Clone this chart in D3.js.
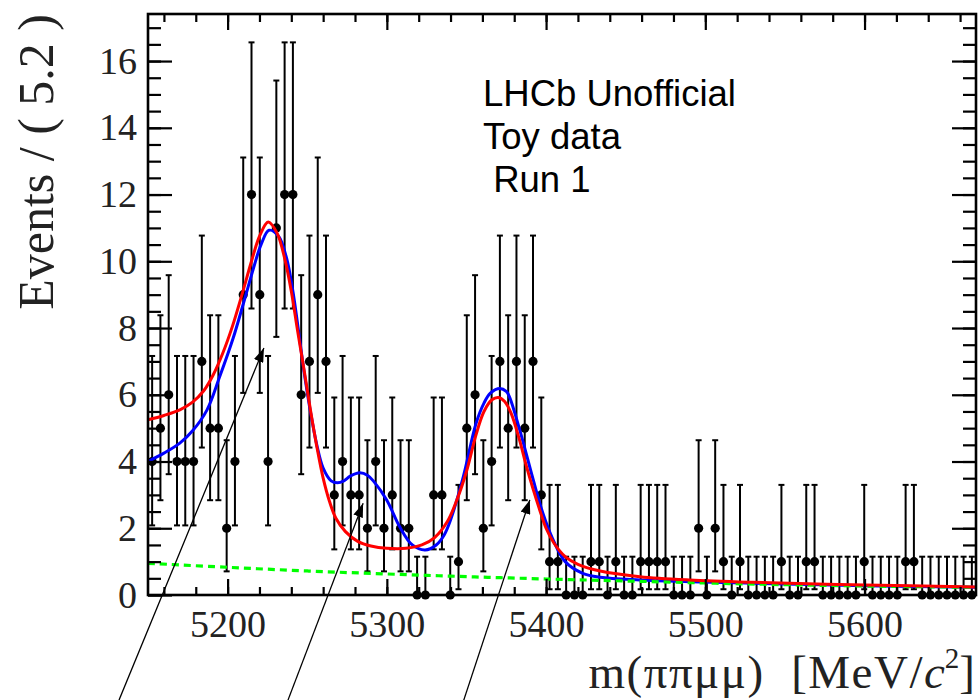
<!DOCTYPE html>
<html>
<head>
<meta charset="utf-8">
<script src="https://cdn.jsdelivr.net/npm/d3@7"></script>
<style>
  body { margin: 0; background: #fff; }
  text { white-space: pre; }
</style>
</head>
<body>
<svg id="chart" width="980" height="700"></svg>
<script>
// ---- Histogram: 100 bins of 5.2 MeV between 5150 and 5670 MeV ----
const massRange = [5150, 5670];
const binWidth = 5.2;
const counts = [
  4, 5, 6, 4, 4, 4, 7, 5, 5, 2,
  4, 9, 12, 9, 4, 11, 12, 12, 6, 7,
  9, 7, 3, 4, 3, 3, 2, 4, 2, 3,
  2, 2, 0, 0, 3, 3, 0, 1, 5, 6,
  2, 4, 7, 5, 7, 5, 7, 3, 1, 1,
  0, 0, 0, 1, 1, 0, 1, 0, 0, 1,
  1, 1, 1, 0, 0, 0, 2, 0, 2, 1,
  0, 1, 0, 0, 0, 0, 1, 0, 0, 1,
  1, 0, 0, 0, 0, 0, 1, 0, 0, 0,
  0, 1, 1, 0, 0, 0, 0, 0, 0, 0
];

// ---- Fit projections, sampled along the mass axis ----
const totalMass = [5150, 5160, 5170, 5178, 5185, 5191, 5197, 5203, 5209, 5215, 5220, 5225.5, 5231, 5236, 5240, 5244, 5248, 5252, 5256, 5260, 5264, 5268, 5274, 5282, 5290, 5300, 5312, 5322, 5330, 5338, 5344, 5350, 5356, 5361, 5366, 5370, 5374, 5378, 5383, 5388, 5392, 5396, 5400, 5405, 5412, 5420, 5434, 5459, 5490, 5530, 5600, 5670];
const totalFit  = [5.25, 5.38, 5.55, 5.78, 6.12, 6.6, 7.25, 8.05, 9.0, 10.0, 10.75, 11.18, 10.85, 10.05, 9.1, 7.9, 6.75, 5.55, 4.45, 3.5, 2.8, 2.3, 1.9, 1.6, 1.47, 1.4, 1.4, 1.5, 1.72, 2.2, 2.85, 3.7, 4.8, 5.5, 5.85, 5.92, 5.8, 5.45, 4.7, 3.8, 3.15, 2.55, 2.0, 1.55, 1.15, 0.92, 0.72, 0.55, 0.45, 0.38, 0.3, 0.24];

const altMass = [5150, 5160, 5170, 5178, 5187, 5195, 5203.5, 5210, 5216, 5221, 5226, 5232, 5237, 5241, 5244, 5248, 5252, 5256, 5260, 5265, 5269, 5273, 5277, 5283, 5288, 5292, 5300, 5308, 5316, 5324, 5331, 5336, 5340, 5348, 5356, 5361, 5365, 5371, 5375, 5377, 5383.5, 5392, 5398, 5404, 5412, 5423, 5434, 5459, 5490, 5550, 5600, 5670];
const altFit  = [4.0, 4.25, 4.55, 4.92, 5.54, 6.54, 7.7, 8.75, 9.75, 10.5, 10.93, 10.75, 10.1, 9.1, 8.1, 6.7, 5.5, 4.5, 3.8, 3.42, 3.36, 3.42, 3.56, 3.66, 3.58, 3.39, 2.84, 2.05, 1.5, 1.35, 1.5, 1.8, 2.25, 3.54, 5.14, 5.75, 6.05, 6.19, 6.1, 5.94, 4.94, 3.44, 2.45, 1.7, 1.0, 0.65, 0.53, 0.45, 0.4, 0.33, 0.28, 0.23];

const bkgMass = [5150, 5200, 5250, 5300, 5350, 5400, 5450, 5500, 5550, 5600, 5670];
const bkgFit  = [0.95, 0.83, 0.72, 0.63, 0.55, 0.48, 0.42, 0.36, 0.31, 0.27, 0.23];

// ---- Axis ticks and labels ----
const xMajorTicks = [5200, 5300, 5400, 5500, 5600];
const xMinorTicks = d3.range(5160, 5670, 20);
const yMajorTicks = [0, 2, 4, 6, 8, 10, 12, 14, 16];
const yMinorTicks = d3.range(0, 17.4, 0.5);
const yTop = 17.41;

// Annotation arrows: tail below the axis, head inside the plot (mass, events)
const arrowTail = [[5131.8, -3.15], [5237.9, -3.15], [5348.3, -3.15]];
const arrowHead = [[5222.8, 7.4], [5285.1, 2.75], [5389.8, 2.85]];

const infoLines = ["LHCb Unofficial", "Toy data", " Run 1"];

// ---- Frame geometry ----
const frame = { left: 148, right: 976, top: 14, bottom: 595 };
const serif = "'Liberation Serif', 'Times New Roman', serif";
const sans = "'Liberation Sans', Arial, sans-serif";

const svg = d3.select("#chart");

const x = d3.scaleLinear().domain(massRange).range([frame.left, frame.right]);
const y = d3.scaleLinear().domain([0, yTop]).range([frame.bottom, frame.top]);

// Poisson central 68.27% interval, as used for event-count error bars
function poissonCdf(n, mu) {
  let term = Math.exp(-mu), sum = term;
  for (let k = 1; k <= n; k++) { term *= mu / k; sum += term; }
  return sum;
}
function poissonInterval(n) {
  const tail = (1 - 0.682689) / 2;
  if (n === 0) return [0, -Math.log(1 - 0.682689)];
  const solve = (f, lo, hi) => {
    for (let it = 0; it < 80; it++) {
      const mid = (lo + hi) / 2;
      if (f(mid) > 0) lo = mid; else hi = mid;
    }
    return (lo + hi) / 2;
  };
  // upper: P(X <= n | mu) = tail ; lower: P(X >= n | mu) = tail
  const up = solve(mu => poissonCdf(n, mu) - tail, n, n + 10 * Math.sqrt(n + 1) + 10);
  const lo = solve(mu => tail - (1 - poissonCdf(n - 1, mu)), 0, n);
  return [lo, up];
}

const bins = counts.map((c, i) => {
  const [lo, hi] = poissonInterval(c);
  return { m: massRange[0] + binWidth * (i + 0.5), c, lo, hi };
});

// ---- Data points with error bars ----
const dataG = svg.append("g");
dataG.selectAll("line.err")
  .data(bins).join("line")
  .attr("class", "err")
  .attr("x1", d => x(d.m)).attr("x2", d => x(d.m))
  .attr("y1", d => y(d.lo)).attr("y2", d => y(d.hi))
  .attr("stroke", "#000").attr("stroke-width", 2);
dataG.selectAll("line.capTop")
  .data(bins).join("line")
  .attr("class", "capTop")
  .attr("x1", d => x(d.m) - 3).attr("x2", d => x(d.m) + 3)
  .attr("y1", d => y(d.hi)).attr("y2", d => y(d.hi))
  .attr("stroke", "#000").attr("stroke-width", 2);
dataG.selectAll("line.capBot")
  .data(bins.filter(d => d.c > 0)).join("line")
  .attr("class", "capBot")
  .attr("x1", d => x(d.m) - 3).attr("x2", d => x(d.m) + 3)
  .attr("y1", d => y(d.lo)).attr("y2", d => y(d.lo))
  .attr("stroke", "#000").attr("stroke-width", 2);
dataG.selectAll("circle")
  .data(bins).join("circle")
  .attr("cx", d => x(d.m)).attr("cy", d => y(d.c))
  .attr("r", 4.6).attr("fill", "#000");

// ---- Fit curves ----
const line = d3.line()
  .x(d => x(d[0])).y(d => y(d[1]))
  .curve(d3.curveCatmullRom.alpha(0.5));

svg.append("path")
  .datum(altMass.map((m, i) => [m, altFit[i]]))
  .attr("d", line).attr("fill", "none")
  .attr("stroke", "#0000ff").attr("stroke-width", 3);

svg.append("path")
  .datum(bkgMass.map((m, i) => [m, bkgFit[i]]))
  .attr("d", line).attr("fill", "none")
  .attr("stroke", "#00ff00").attr("stroke-width", 3.2)
  .attr("stroke-dasharray", "7,5");

svg.append("path")
  .datum(totalMass.map((m, i) => [m, totalFit[i]]))
  .attr("d", line).attr("fill", "none")
  .attr("stroke", "#ff0000").attr("stroke-width", 3);

// ---- Axes: ticks point inward on all four sides ----
function styleAxis(g) {
  g.select(".domain").remove();
  g.selectAll(".tick line").attr("stroke", "#000").attr("stroke-width", 2.2);
  g.selectAll("text").attr("font-family", serif).attr("font-size", 38).attr("fill", "#222");
}

svg.append("g").attr("transform", `translate(0,${frame.bottom})`)
  .call(d3.axisBottom(x).tickValues(xMajorTicks).tickSize(-16).tickPadding(15).tickFormat(d3.format("d")))
  .call(styleAxis);
svg.append("g").attr("transform", `translate(0,${frame.bottom})`)
  .call(d3.axisBottom(x).tickValues(xMinorTicks).tickSize(-8).tickFormat(""))
  .call(styleAxis);
svg.append("g").attr("transform", `translate(0,${frame.top})`)
  .call(d3.axisTop(x).tickValues(xMajorTicks).tickSize(-16).tickFormat(""))
  .call(styleAxis);
svg.append("g").attr("transform", `translate(0,${frame.top})`)
  .call(d3.axisTop(x).tickValues(xMinorTicks).tickSize(-8).tickFormat(""))
  .call(styleAxis);

svg.append("g").attr("transform", `translate(${frame.left},0)`)
  .call(d3.axisLeft(y).tickValues(yMajorTicks).tickSize(-24).tickPadding(11).tickFormat(d3.format("d")))
  .call(styleAxis);
svg.append("g").attr("transform", `translate(${frame.left},0)`)
  .call(d3.axisLeft(y).tickValues(yMinorTicks).tickSize(-13).tickFormat(""))
  .call(styleAxis);
svg.append("g").attr("transform", `translate(${frame.right},0)`)
  .call(d3.axisRight(y).tickValues(yMajorTicks).tickSize(-24).tickFormat(""))
  .call(styleAxis);
svg.append("g").attr("transform", `translate(${frame.right},0)`)
  .call(d3.axisRight(y).tickValues(yMinorTicks).tickSize(-13).tickFormat(""))
  .call(styleAxis);

svg.append("rect")
  .attr("x", frame.left).attr("y", frame.top)
  .attr("width", frame.right - frame.left).attr("height", frame.bottom - frame.top)
  .attr("fill", "none").attr("stroke", "#000").attr("stroke-width", 2.6);

// ---- Axis titles ----
svg.append("text")
  .attr("transform", "rotate(-90)")
  .attr("x", -frame.top).attr("y", 53)
  .attr("text-anchor", "end")
  .attr("font-family", serif).attr("font-size", 50).attr("fill", "#222")
  .text("Events / ( 5.2 )");

const xt = svg.append("text")
  .attr("x", 975).attr("y", 688)
  .attr("text-anchor", "end")
  .attr("font-family", serif).attr("font-size", 47).attr("fill", "#222");
xt.append("tspan").attr("letter-spacing", 1.5).text("m(ππμμ)  [MeV/");
xt.append("tspan").attr("font-style", "italic").text("c");
xt.append("tspan").attr("font-size", 29).attr("dy", -20).text("2");
xt.append("tspan").attr("dy", 20).text("]");

// ---- Info text ----
svg.append("g").selectAll("text")
  .data(infoLines).join("text")
  .attr("x", 483).attr("y", (d, i) => 106 + i * 43)
  .attr("font-family", sans).attr("font-size", 36.5).attr("fill", "#000")
  .text(d => d);

// ---- Annotation arrows ----
const defs = svg.append("defs");
defs.append("marker")
  .attr("id", "head").attr("viewBox", "0 0 14 10")
  .attr("refX", 14).attr("refY", 5)
  .attr("markerWidth", 14).attr("markerHeight", 10)
  .attr("markerUnits", "userSpaceOnUse")
  .attr("orient", "auto")
  .append("path").attr("d", "M0,0 L14,5 L0,10 Z").attr("fill", "#000");

svg.append("g").selectAll("line")
  .data(arrowTail.map((t, i) => [t, arrowHead[i]])).join("line")
  .attr("x1", d => x(d[0][0])).attr("y1", d => y(d[0][1]))
  .attr("x2", d => x(d[1][0])).attr("y2", d => y(d[1][1]))
  .attr("stroke", "#000").attr("stroke-width", 1.3)
  .attr("marker-end", "url(#head)");
</script>
</body>
</html>
